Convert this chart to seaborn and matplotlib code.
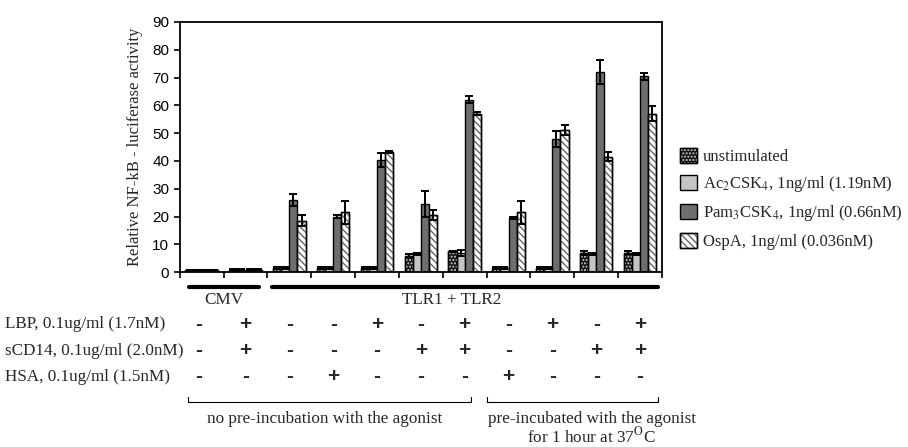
import matplotlib
matplotlib.use('Agg')
import matplotlib.pyplot as plt
import matplotlib.transforms as mtransforms
import numpy as np
import pandas as pd
import seaborn as sns
from matplotlib.patches import Patch

# data
groups = ['G%d' % i for i in range(1, 12)]
stimuli = ['unstimulated', 'Ac2CSK4', 'Pam3CSK4', 'OspA']
unstim = [0.8, 0.9, 1.5, 1.5, 1.5, 6.0, 7.5, 1.5, 1.5, 7.0, 7.0]
ac2 = [0.8, 0.9, 1.5, 1.5, 1.5, 6.5, 7.0, 1.5, 1.5, 6.5, 6.5]
pam3 = [0.8, 0.9, 26.0, 20.0, 40.5, 24.5, 62.0, 19.5, 48.0, 72.0, 70.5]
ospa = [0.8, 0.9, 18.5, 21.5, 43.2, 20.5, 57.0, 21.5, 51.0, 41.5, 57.0]
unstim_err = [0.1, 0.1, 0.2, 0.2, 0.2, 0.5, 0.3, 0.2, 0.3, 0.8, 0.5]
ac2_err = [0.1, 0.1, 0.2, 0.2, 0.2, 0.3, 1.0, 0.2, 0.3, 0.3, 0.3]
pam3_err = [0.1, 0.1, 2.2, 0.5, 2.5, 4.8, 1.2, 0.5, 2.8, 4.2, 1.3]
ospa_err = [0.1, 0.1, 2.0, 4.2, 0.4, 1.8, 0.6, 4.2, 1.8, 1.6, 2.7]

legend_labels = ['unstimulated',
                 'Ac$_2$CSK$_4$, 1ng/ml (1.19nM)',
                 'Pam$_3$CSK$_4$, 1ng/ml (0.66nM)',
                 'OspA, 1ng/ml (0.036nM)']
row_labels = ['LBP, 0.1ug/ml (1.7nM)', 'sCD14, 0.1ug/ml (2.0nM)', 'HSA, 0.1ug/ml (1.5nM)']
lbp = ['-', '+', '-', '-', '+', '-', '+', '-', '+', '-', '+']
scd14 = ['-', '+', '-', '-', '-', '+', '+', '-', '-', '+', '+']
hsa = ['-', '-', '-', '+', '-', '-', '-', '+', '-', '-', '-']

df = pd.DataFrame({
    'group': np.repeat(groups, 4),
    'stim': stimuli * len(groups),
    'value': np.ravel(np.column_stack([unstim, ac2, pam3, ospa])),
})
errs = [unstim_err, ac2_err, pam3_err, ospa_err]

sns.set_style('ticks')
plt.rcParams['font.family'] = ['Liberation Serif', 'DejaVu Sans']
plt.rcParams['mathtext.fontset'] = 'stix'
plt.rcParams['hatch.linewidth'] = 1.0

fig = plt.figure(figsize=(9.08, 4.47), dpi=100)
ax = fig.add_axes([0.198, 0.391, 0.531, 0.56])

face = ['#141414', '#c4c4c4', '#6e6e6e', '#ffffff']
hatches = ['.....', None, None, '\\\\\\\\\\']
hatch_col = ['#cccccc', None, None, '#666666']
FS = 12.3

sns.barplot(data=df, x='group', y='value', hue='stim', hue_order=stimuli,
            palette=face, width=0.74, saturation=1, edgecolor='black',
            linewidth=1.0, errorbar=None, legend=False, ax=ax)

# hatch overlays and error bars on top of the seaborn bars
for k, cont in enumerate(ax.containers[:4]):
    xs, tops = [], []
    for p in cont.patches:
        xs.append(p.get_x() + p.get_width() / 2)
        tops.append(p.get_height())
        if hatches[k]:
            ax.bar(xs[-1], p.get_height(), width=p.get_width(), bottom=0,
                   facecolor='none', edgecolor=hatch_col[k], hatch=hatches[k],
                   linewidth=0, zorder=p.get_zorder() + 0.1)
            ax.bar(xs[-1], p.get_height(), width=p.get_width(), bottom=0,
                   facecolor='none', edgecolor='black', linewidth=1.0,
                   zorder=p.get_zorder() + 0.2)
    ax.errorbar(xs, tops, yerr=errs[k], fmt='none', ecolor='black',
                elinewidth=1.4, capsize=3, capthick=1.4, zorder=5)

ax.set_xlim(-0.5, 10.5)
ax.set_ylim(0, 90)
ax.set_yticks(range(0, 91, 10))
ax.set_xticks(np.arange(-0.5, 11, 1))
ax.set_xticklabels([])
ax.set_xlabel('')
ax.set_ylabel('Relative NF-kB - luciferase activity', fontsize=12, labelpad=7)
for lab in ax.get_yticklabels():
    lab.set_fontfamily('Liberation Sans')
    lab.set_fontsize(11)
ax.tick_params(axis='both', direction='out', length=4, width=1.2, colors='black')
for s in ax.spines.values():
    s.set_linewidth(1.3)
    s.set_color('black')

handles = []
for i in range(4):
    base = Patch(facecolor=face[i], edgecolor='black', linewidth=1.0)
    if hatches[i]:
        hp = Patch(facecolor='none', edgecolor=hatch_col[i], hatch=hatches[i], linewidth=0)
        edge = Patch(facecolor='none', edgecolor='black', linewidth=1.0)
        handles.append((base, hp, edge))
    else:
        handles.append(base)
fig.legend(handles, legend_labels, loc='center left',
           bbox_to_anchor=(0.742, 0.555), frameon=False, fontsize=12,
           handlelength=1.0, handleheight=1.0, handletextpad=0.35,
           labelspacing=0.55, borderaxespad=0)

# annotation area below the axes: x in data units, y in figure fraction
tr = ax.get_xaxis_transform()
btr = mtransforms.blended_transform_factory(ax.transData, fig.transFigure)
kw = dict(transform=tr, clip_on=False, color='black')
ax.plot([-0.3, 1.3], [-0.058, -0.058], lw=3, **kw)
ax.plot([1.6, 10.4], [-0.058, -0.058], lw=3, **kw)
ax.text(0.5, -0.11, 'CMV', ha='center', va='center', fontsize=FS, transform=tr)
ax.text(5.7, -0.11, 'TLR1 + TLR2', ha='center', va='center', fontsize=FS, transform=tr)

row_px = [324, 351, 377]
for r, (lab, signs) in enumerate(zip(row_labels, [lbp, scd14, hsa])):
    fy = 1 - row_px[r] / 447
    fig.text(0.006, fy, lab, ha='left', va='center', fontsize=FS)
    for i, s in enumerate(signs):
        xi = i - 0.08 if i == 0 else i
        ax.text(xi, fy, s, ha='center', va='center', fontsize=15,
                fontweight='bold', fontfamily='Liberation Sans', transform=btr)

# brackets
by = 1 - 402 / 447
for x0, x1 in [(-0.32, 6.15), (6.5, 10.42)]:
    ax.plot([x0, x0, x1, x1], [by + 0.011, by, by, by + 0.011], lw=0.8,
            transform=btr, clip_on=False, color='black')
ax.text(2.8, 1 - 419 / 447, 'no pre-incubation with the agonist', ha='center',
        va='center', fontsize=FS, transform=btr)
ax.text(8.9, 1 - 419 / 447, 'pre-incubated with the agonist', ha='center',
        va='center', fontsize=FS, transform=btr)
ax.text(8.9, 1 - 436 / 447, r'for 1 hour at 37$^{\rm O}$C', ha='center',
        va='center', fontsize=FS, transform=btr)

fig.savefig('out.png', dpi=100)
